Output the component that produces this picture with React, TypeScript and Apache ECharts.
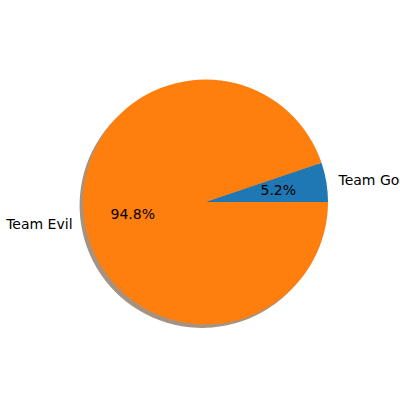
import React, { useEffect, useRef } from "react";
import * as echarts from "echarts";

const categories = ["Team Good", "Team Evil"];
const values = [5.2, 94.8];
const colors = ["#1f77b4", "#ff7f0e"];
const shadowColors = ["rgba(9,36,54,0.5)", "rgba(77,38,4,0.5)"];

export default function App() {
  const ref = useRef<HTMLDivElement>(null);
  useEffect(() => {
    if (!ref.current) return;
    const chart = echarts.init(ref.current, undefined, { renderer: "svg" });
    const R = 122.5;
    const cx = 205.5;
    const cy = 202;
    const font = { fontFamily: "DejaVu Sans", fontSize: 14, color: "#000" };
    const base = {
      type: "pie",
      startAngle: 0,
      clockwise: false,
      avoidLabelOverlap: false,
      silent: true,
    };
    chart.setOption({
      animation: false,
      backgroundColor: "#fff",
      series: [
        {
          ...base,
          center: [cx - 3.4, cy + 3.4],
          radius: R,
          label: { show: false },
          labelLine: { show: false },
          data: categories.map((c, i) => ({
            name: c,
            value: values[i],
            itemStyle: { color: shadowColors[i] },
          })),
        },
        {
          ...base,
          center: [cx, cy],
          radius: R,
          label: {
            show: true,
            position: "outside",
            formatter: "{b}",
            distanceToLabelLine: 0,
            ...font,
          },
          labelLine: { show: false, length: R * 0.1, length2: 0 },
          data: categories.map((c, i) => ({
            name: c,
            value: values[i],
            itemStyle: { color: colors[i] },
          })),
        },
        {
          ...base,
          center: [cx, cy],
          radius: R * 1.155,
          label: {
            show: true,
            position: "inside",
            formatter: (p: any) => p.percent.toFixed(1) + "%",
            ...font,
          },
          labelLine: { show: false },
          data: categories.map((c, i) => ({
            name: c,
            value: values[i],
            itemStyle: { color: "rgba(0,0,0,0)" },
          })),
        },
      ],
    });
    return () => chart.dispose();
  }, []);
  return (
    <div
      ref={ref}
      style={{ position: "fixed", left: 0, top: 0, width: 400, height: 400 }}
    />
  );
}
